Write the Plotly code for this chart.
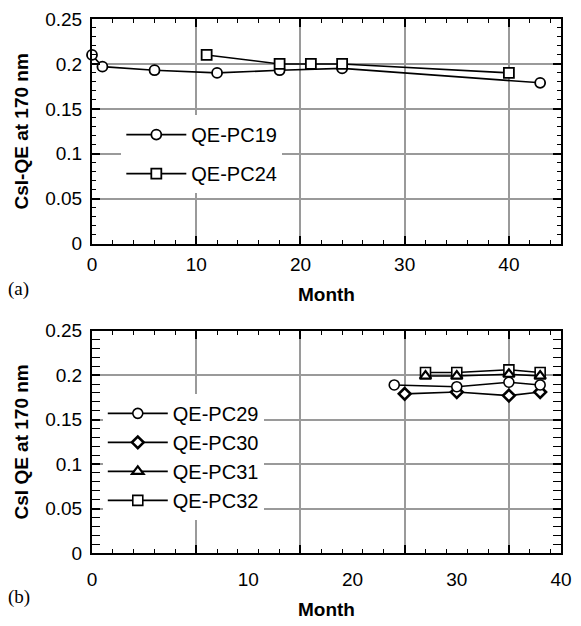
import plotly.graph_objects as go

# ---- data ----
months_pc19 = [0, 1, 6, 12, 18, 24, 43]
qe_pc19 = [0.210, 0.197, 0.193, 0.190, 0.193, 0.195, 0.179]
months_pc24 = [11, 18, 21, 24, 40]
qe_pc24 = [0.210, 0.200, 0.200, 0.200, 0.190]

months_pc29 = [24, 30, 35, 38]
qe_pc29 = [0.189, 0.187, 0.192, 0.189]
months_pc30 = [25, 30, 35, 38]
qe_pc30 = [0.179, 0.181, 0.177, 0.181]
months_pc31 = [27, 30, 35, 38]
qe_pc31 = [0.199, 0.199, 0.201, 0.199]
months_pc32 = [27, 30, 35, 38]
qe_pc32 = [0.203, 0.203, 0.206, 0.203]

top_x_ticks = [0, 10, 20, 30, 40]
bottom_x_tickvals = [-5, 10, 20, 30, 40]
bottom_x_ticktext = ["0", "10", "20", "30", "40"]
y_tickvals = [0, 0.05, 0.1, 0.15, 0.2, 0.25]
y_ticktext = ["0", "0.05", "0.1", "0.15", "0.2", "0.25"]

FONT = "Liberation Sans, Arial, sans-serif"
GRID = "#9a9a9a"

fig = go.Figure()

def add(x, y, name, symbol, size, lw, xaxis, yaxis, legend, group, rank):
    fig.add_trace(go.Scatter(
        x=x, y=y, name=name, mode="lines+markers",
        xaxis=xaxis, yaxis=yaxis, legend=legend, legendgroup=group,
        legendrank=rank, cliponaxis=False,
        line=dict(color="black", width=1.6),
        marker=dict(symbol=symbol, size=size, color="white",
                    line=dict(color="black", width=lw)),
    ))

add(months_pc19, qe_pc19, "QE-PC19", "circle", 10, 1.8, "x", "y", "legend", "a1", 1)
add(months_pc24, qe_pc24, "QE-PC24", "square", 10, 1.8, "x", "y", "legend", "a2", 2)
add(months_pc32, qe_pc32, "QE-PC32", "square", 10, 1.6, "x2", "y2", "legend2", "b4", 4)
add(months_pc31, qe_pc31, "QE-PC31", "triangle-up", 10, 2.2, "x2", "y2", "legend2", "b3", 3)
add(months_pc30, qe_pc30, "QE-PC30", "diamond", 9, 2.6, "x2", "y2", "legend2", "b2", 2)
add(months_pc29, qe_pc29, "QE-PC29", "circle", 10, 1.6, "x2", "y2", "legend2", "b1", 1)
fig.add_trace(go.Scatter(x=[], y=[], xaxis="x3", yaxis="y2", showlegend=False))

tickfont = dict(family=FONT, size=19, color="black")
titlefont = dict(family=FONT, size=19, color="black", weight="bold")

yax = dict(range=[0, 0.25], tickvals=y_tickvals, ticktext=y_ticktext,
           ticks="inside", ticklen=8, tickwidth=1.5, tickcolor="black",
           minor=dict(ticks="inside", ticklen=4, dtick=0.01, tick0=0, tickcolor="black", tickwidth=1.2),
           showline=True, linecolor="black", linewidth=2, mirror="allticks",
           showgrid=True, gridcolor=GRID, gridwidth=1.5, zeroline=False,
           tickfont=tickfont, ticklabelstandoff=4)

fig.update_layout(
    width=581, height=626,
    margin=dict(l=92, r=9, t=17, b=63),
    paper_bgcolor="white", plot_bgcolor="white",
    showlegend=True,
    xaxis=dict(domain=[0, 1], anchor="y", range=[0, 45], tickvals=top_x_ticks,
               ticks="inside", ticklen=8, tickwidth=1.5, tickcolor="black",
               minor=dict(ticks="inside", ticklen=4, dtick=2, tick0=0, tickcolor="black", tickwidth=1.2),
               showline=True, linecolor="black", linewidth=2, mirror="allticks",
               showgrid=True, gridcolor=GRID, gridwidth=1.5, zeroline=False,
               tickfont=tickfont, ticklabelstandoff=3,
               title=dict(text="Month", font=titlefont, standoff=13)),
    yaxis=dict(domain=[0.5793, 1], anchor="x",
               title=dict(text="CsI-QE at 170 nm", font=titlefont, standoff=12), **yax),
    xaxis2=dict(domain=[0, 1], anchor="y2", range=[-5, 40],
                tickvals=bottom_x_tickvals, ticktext=bottom_x_ticktext, ticks="",
                showline=True, linecolor="black", linewidth=2, mirror=True,
                showgrid=False, zeroline=False, tickfont=tickfont, ticklabelstandoff=8,
                title=dict(text="Month", font=titlefont, standoff=14)),
    xaxis3=dict(overlaying="x2", anchor="y2", range=[-5, 40], tickmode="linear",
                tick0=-5, dtick=10, showticklabels=False,
                ticks="inside", ticklen=8, tickwidth=1.5, tickcolor="black",
                minor=dict(ticks="inside", ticklen=4, dtick=2, tick0=-5, tickcolor="black", tickwidth=1.2),
                showline=True, linecolor="black", linewidth=2, mirror="allticks",
                showgrid=True, gridcolor=GRID, gridwidth=1.5, zeroline=False),
    yaxis2=dict(domain=[0, 0.4163], anchor="x2",
                title=dict(text="CsI QE at 170 nm", font=titlefont, standoff=12), **yax),
    legend=dict(x=0.0625, y=0.82, xanchor="left", yanchor="top", bgcolor="white",
                borderwidth=0, font=dict(family=FONT, size=20, color="black"),
                itemwidth=60, tracegroupgap=10, traceorder="grouped"),
    legend2=dict(x=0.023, y=0.298, xanchor="left", yanchor="top", bgcolor="white",
                 borderwidth=0, font=dict(family=FONT, size=20, color="black"),
                 itemwidth=60, tracegroupgap=0, traceorder="grouped"),
    annotations=[
        dict(text="(a)", xref="paper", yref="paper", x=-0.156, y=0.4945,
             xanchor="center", yanchor="middle", showarrow=False,
             font=dict(family="Liberation Serif, Times New Roman, serif", size=19, color="black")),
        dict(text="(b)", xref="paper", yref="paper", x=-0.156, y=-0.0824,
             xanchor="center", yanchor="middle", showarrow=False,
             font=dict(family="Liberation Serif, Times New Roman, serif", size=19, color="black")),
    ],
)

fig.write_html("out.html")
